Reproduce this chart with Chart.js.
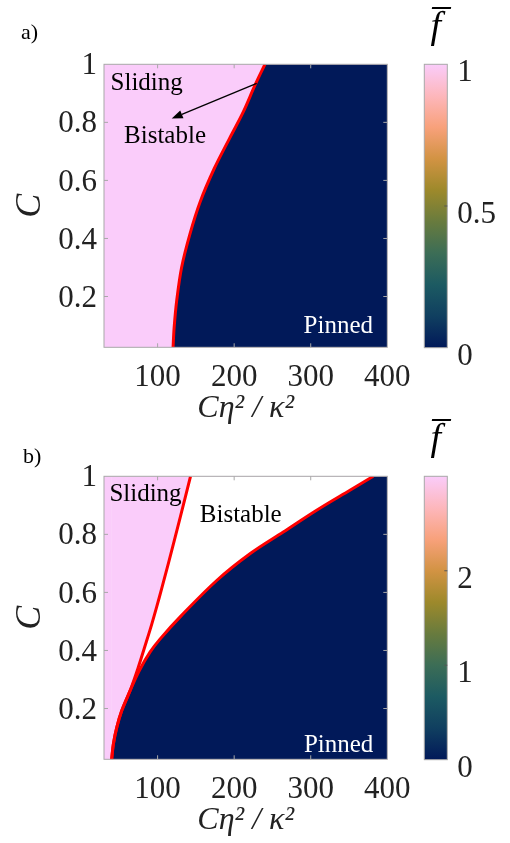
<!DOCTYPE html>
<html>
<head>
<meta charset="utf-8">
<script src="https://cdn.jsdelivr.net/npm/chart.js@4.4.1/dist/chart.umd.min.js"></script>
<style>
html,body{margin:0;padding:0;background:#fff;width:510px;height:843px;overflow:hidden}
canvas{position:absolute;display:block}
</style>
</head>
<body>
<canvas id="pa" width="430" height="430" style="left:0;top:0"></canvas>
<canvas id="ca" width="110" height="430" style="left:400px;top:0"></canvas>
<canvas id="pb" width="430" height="430" style="left:0;top:412px"></canvas>
<canvas id="cb" width="110" height="430" style="left:400px;top:412px"></canvas>
<script>
// ---------- data ----------
const xTickValues = [100, 200, 300, 400];
const yTickValues = [0.2, 0.4, 0.6, 0.8, 1];
const xLimits = [30, 400];
const yLimits = [0.025, 1];

// panel a) : single sliding / pinned boundary
const aBoundaryX = [120.2, 121.6, 124.9, 131.4, 142.3, 155.4, 174.0, 194.0, 211.9, 227.2, 240.2];
const aBoundaryY = [0.025, 0.093, 0.185, 0.301, 0.416, 0.525, 0.641, 0.745, 0.836, 0.928, 1.0];

// panel b) : sliding boundary and pinned boundary
const bSlidingX = [40.0, 42.2, 46.6, 53.1, 64.0, 74.4, 85.3, 92.3, 98.8, 105.5, 114.1, 129.2, 143.0];
const bSlidingY = [0.025, 0.077, 0.134, 0.192, 0.261, 0.339, 0.43, 0.49, 0.55, 0.615, 0.70, 0.855, 1.0];
const bPinnedX = [40.0, 42.2, 46.6, 53.1, 64.0, 76.0, 90.1, 103.1, 131.0, 177.2, 220.6, 264.1, 307.7, 351.2, 381.7];
const bPinnedY = [0.025, 0.077, 0.134, 0.192, 0.261, 0.33, 0.394, 0.439, 0.52, 0.641, 0.733, 0.808, 0.883, 0.952, 1.0];

// colour bars
const cbarATicks = [0, 0.5, 1];
const cbarAMax = 1;
const cbarBTicks = [0, 1, 2];
const cbarBMax = 3;
const batlow = ['#011959', '#103F60', '#1C5A62', '#3C6D56', '#687B3E', '#9D892B', '#D29343', '#F8A17B', '#FDB7BC', '#FACCFA'];

// region annotations (data coordinates)
const regionLabels = ['Sliding', 'Bistable', 'Pinned'];
const aLabelX = [85.7, 109.7, 336.0];
const aLabelY = [0.934, 0.751, 0.098];
const bLabelX = [84.2, 208.6, 336.4];
const bLabelY = [0.938, 0.865, 0.074];
const aArrowX = [229.4, 118.4];
const aArrowY = [0.934, 0.813];

// ---------- helpers ----------
const SERIF = '"Liberation Serif", "Times New Roman", serif';
const TXT = '#222222';
const FRAME = '#a8a8a8';
const PINK = batlow[batlow.length - 1];
const NAVY = batlow[0];
const pts = (xs, ys) => xs.map((x, i) => ({x, y: ys[i]}));
const NOLINE = {borderWidth: 0, borderColor: 'rgba(0,0,0,0)'};
// boundary closed along the top edge to the right-hand corner (last point repeated so the curve keeps its shape)
const toCorner = (curve) => curve.concat([curve[curve.length - 1], {x: xLimits[1], y: yLimits[1]}]);

function decorPlugin(o) {
  return {
    id: 'decor',
    beforeDatasetsDraw(chart) {
      const {ctx, chartArea: a} = chart;
      ctx.save();
      ctx.fillStyle = o.bg;
      ctx.fillRect(a.left, a.top, a.width, a.height);
      ctx.restore();
    },
    afterDatasetsDraw(chart) {
      const {ctx, chartArea: a, scales: {x, y}} = chart;
      ctx.save();
      ctx.font = '25px ' + SERIF;
      ctx.textAlign = 'center';
      ctx.textBaseline = 'middle';
      o.lx.forEach((vx, i) => {
        ctx.fillStyle = i === 2 ? '#ffffff' : '#000000';
        ctx.fillText(regionLabels[i], x.getPixelForValue(vx), y.getPixelForValue(o.ly[i]));
      });
      if (o.ax) {
        const x0 = x.getPixelForValue(o.ax[0]), y0 = y.getPixelForValue(o.ay[0]);
        const x1 = x.getPixelForValue(o.ax[1]), y1 = y.getPixelForValue(o.ay[1]);
        const ang = Math.atan2(y1 - y0, x1 - x0);
        const L = 11, W = 4.2;
        const bx = x1 - L * Math.cos(ang), by = y1 - L * Math.sin(ang);
        ctx.strokeStyle = '#000'; ctx.lineWidth = 1.3;
        ctx.beginPath(); ctx.moveTo(x0, y0); ctx.lineTo(bx, by); ctx.stroke();
        ctx.fillStyle = '#000';
        ctx.beginPath();
        ctx.moveTo(x1, y1);
        ctx.lineTo(bx + W * Math.sin(ang), by - W * Math.cos(ang));
        ctx.lineTo(bx - W * Math.sin(ang), by + W * Math.cos(ang));
        ctx.closePath(); ctx.fill();
      }
      // frame and inward ticks
      ctx.strokeStyle = FRAME; ctx.lineWidth = 1;
      ctx.strokeRect(a.left, a.top, a.width, a.height);
      ctx.beginPath();
      xTickValues.forEach(v => {
        const px = x.getPixelForValue(v);
        if (px >= a.right - 1) return;
        ctx.moveTo(px, a.top); ctx.lineTo(px, a.top + 4);
        ctx.moveTo(px, a.bottom); ctx.lineTo(px, a.bottom - 4);
      });
      yTickValues.forEach(v => {
        const py = y.getPixelForValue(v);
        if (py <= a.top + 1) return;
        ctx.moveTo(a.left, py); ctx.lineTo(a.left + 4, py);
        ctx.moveTo(a.right, py); ctx.lineTo(a.right - 4, py);
      });
      ctx.stroke();
      // panel letter
      ctx.font = '22px ' + SERIF;
      ctx.fillStyle = '#000';
      ctx.textAlign = 'left';
      ctx.fillText(o.letter, o.letterPos[0], o.letterPos[1]);
      ctx.restore();
    }
  };
}

function mainChart(id, datasets, deco) {
  return new Chart(document.getElementById(id), {
    type: 'line',
    data: {datasets},
    options: {
      responsive: false,
      animation: false,
      events: [],
      layout: {padding: {left: 0, top: 64.3, right: 42.7, bottom: 0}},
      plugins: {legend: {display: false}, tooltip: {enabled: false}},
      elements: {point: {radius: 0},
                 line: {tension: 0.35, cubicInterpolationMode: 'default', capBezierPoints: false}},
      scales: {
        x: {
          type: 'linear', min: xLimits[0], max: xLimits[1],
          grid: {display: false, drawTicks: false}, border: {display: false},
          afterBuildTicks: s => { s.ticks = xTickValues.map(v => ({value: v})); },
          afterFit: s => { s.height = 82.7; },
          ticks: {padding: 12, color: TXT, maxRotation: 0, autoSkip: false,
                  font: {family: SERIF, size: 31}, callback: v => String(v)},
          title: {display: true, text: 'Cη² / κ²', color: TXT,
                  font: {family: SERIF, size: 32, style: 'italic'}, padding: {top: 0, bottom: 2}}
        },
        y: {
          type: 'linear', min: yLimits[0], max: yLimits[1],
          grid: {display: false, drawTicks: false}, border: {display: false},
          afterBuildTicks: s => { s.ticks = yTickValues.map(v => ({value: v})); },
          afterFit: s => { s.width = 104; },
          ticks: {padding: 7, labelOffset: 2, color: TXT, autoSkip: false,
                  font: {family: SERIF, size: 31}, callback: v => String(v)},
          title: {display: true, text: 'C', color: TXT,
                  font: {family: SERIF, size: 36, style: 'italic'}, padding: {top: 9, bottom: 0}}
        }
      }
    },
    plugins: [decorPlugin(deco)]
  });
}

function colorBar(id, tickVals, maxVal) {
  return new Chart(document.getElementById(id), {
    type: 'bar',
    data: {
      labels: [''],
      datasets: [{
        data: [maxVal],
        barPercentage: 1, categoryPercentage: 1, borderWidth: 0,
        backgroundColor: (c) => {
          const ch = c.chart, a = ch.chartArea;
          if (!a) return NAVY;
          const g = ch.ctx.createLinearGradient(0, a.bottom, 0, a.top);
          batlow.forEach((col, i) => g.addColorStop(i / (batlow.length - 1), col));
          return g;
        }
      }]
    },
    options: {
      responsive: false,
      animation: false,
      events: [],
      layout: {padding: {left: 24.3, top: 64.3, right: 0, bottom: 82.3}},
      plugins: {legend: {display: false}, tooltip: {enabled: false}},
      scales: {
        x: {display: false},
        y: {
          position: 'right', min: 0, max: maxVal,
          grid: {display: false, drawTicks: false}, border: {display: false},
          afterBuildTicks: s => { s.ticks = tickVals.map(v => ({value: v})); },
          afterFit: s => { s.width = 62.7; },
          ticks: {padding: 10, labelOffset: 9, color: TXT, autoSkip: false,
                  font: {family: SERIF, size: 31}, callback: v => String(v)}
        }
      }
    },
    plugins: [{
      id: 'cbdecor',
      afterDraw(chart) {
        const {ctx, chartArea: a, scales: {y}} = chart;
        ctx.save();
        ctx.strokeStyle = FRAME; ctx.lineWidth = 1;
        ctx.strokeRect(a.left, a.top, a.width, a.height);
        ctx.strokeStyle = '#555';
        ctx.beginPath();
        tickVals.forEach(v => {
          const py = y.getPixelForValue(v);
          if (py >= a.bottom - 1 || py <= a.top + 1) return;
          ctx.moveTo(a.right, py); ctx.lineTo(a.right - 3, py);
        });
        ctx.stroke();
        ctx.fillStyle = '#000';
        ctx.font = 'italic 38px ' + SERIF;
        ctx.textAlign = 'center';
        ctx.textBaseline = 'middle';
        ctx.fillText('f\u0305', (a.left + a.right) / 2, 28);
        ctx.restore();
      }
    }]
  });
}

// ---------- panel a ----------
const aCurve = pts(aBoundaryX, aBoundaryY);
mainChart('pa', [
  {data: aCurve, borderColor: '#ff0000', borderWidth: 3, fill: false},
  Object.assign({data: toCorner(aCurve), backgroundColor: NAVY, fill: 'start'}, NOLINE)
], {bg: PINK, lx: aLabelX, ly: aLabelY, ax: aArrowX, ay: aArrowY, letter: 'a)', letterPos: [21, 33]});
colorBar('ca', cbarATicks, cbarAMax);

// ---------- panel b ----------
const bSlide = pts(bSlidingX, bSlidingY);
const bPin = pts(bPinnedX, bPinnedY);
mainChart('pb', [
  {data: bSlide, borderColor: '#ff0000', borderWidth: 3, fill: false},
  {data: bPin, borderColor: '#ff0000', borderWidth: 3, fill: false},
  Object.assign({data: bSlide, backgroundColor: PINK, fill: 'end'}, NOLINE),
  Object.assign({data: toCorner(bPin), backgroundColor: NAVY, fill: 'start'}, NOLINE),
  Object.assign({data: bPin, backgroundColor: '#ffffff', fill: 'end'}, NOLINE)
], {bg: PINK, lx: bLabelX, ly: bLabelY, ax: null, ay: null, letter: 'b)', letterPos: [23, 45]});
colorBar('cb', cbarBTicks, cbarBMax);
</script>
</body>
</html>
